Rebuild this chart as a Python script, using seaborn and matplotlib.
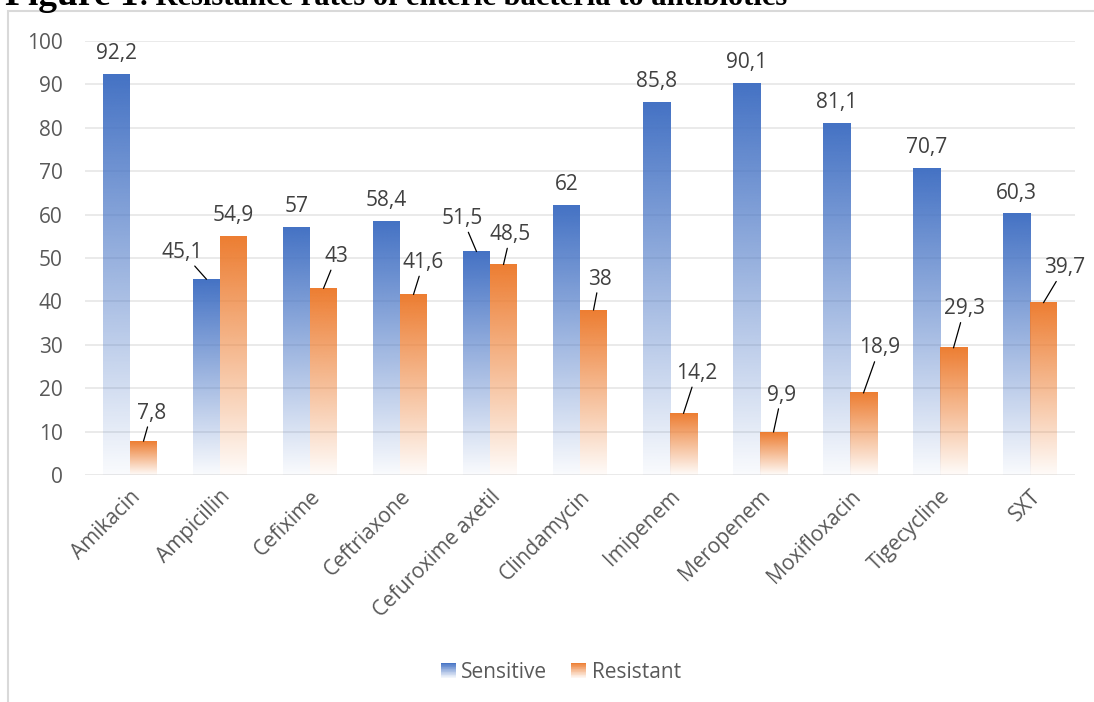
import numpy as np
import pandas as pd
import matplotlib
matplotlib.use('Agg')
import matplotlib.pyplot as plt
import seaborn as sns
from matplotlib.colors import to_rgb
from matplotlib.patches import Rectangle
from matplotlib.legend_handler import HandlerBase

# data
antibiotics = ['Amikacin', 'Ampicillin', 'Cefixime', 'Ceftriaxone', 'Cefuroxime axetil',
               'Clindamycin', 'Imipenem', 'Meropenem', 'Moxifloxacin', 'Tigecycline', 'SXT']
sensitive = [92.2, 45.1, 57, 58.4, 51.5, 62, 85.8, 90.1, 81.1, 70.7, 60.3]
resistant = [7.8, 54.9, 43, 41.6, 48.5, 38, 14.2, 9.9, 18.9, 29.3, 39.7]
groups = ['Sensitive', 'Resistant']
colors = ['#4472C4', '#ED7D31']

# where each value label sits, in pixels from the top of its bar
sens_offsets = [(0, 21), (-24, 27), (0, 21), (0, 21), (-14, 33), (0, 21),
                (0, 21), (0, 21), (0, 21), (0, 21), (0, 20)]
res_offsets = [(8, 28), (0, 21), (13, 32), (10, 32), (7, 30), (6, 31),
               (13, 40), (8, 37), (16, 45), (11, 39), (21, 35)]

df = pd.DataFrame({
    'antibiotic': antibiotics * 2,
    'group': [groups[0]] * len(antibiotics) + [groups[1]] * len(antibiotics),
    'value': sensitive + resistant,
})


class GradientHandler(HandlerBase):
    # legend square that fades to white, like the bars
    def create_artists(self, legend, orig_handle, xdescent, ydescent, width, height, fontsize, trans):
        rgb = np.array(to_rgb(orig_handle.get_facecolor()))
        n = 20
        out = []
        for k in range(n):
            a = 0.05 + 0.95 * (k + 0.5) / n
            col = rgb * a + (1 - a)
            out.append(Rectangle((-xdescent, -ydescent + k * height / n), width, height / n * 1.05,
                                 facecolor=col, edgecolor='none', transform=trans))
        return out


sns.set_style('white')
plt.rcParams['font.family'] = ['Open Sans', 'DejaVu Sans']

W, H = 1094, 702
fig = plt.figure(figsize=(W / 100, H / 100), dpi=100)
ax = fig.add_axes([85 / W, 1 - 475 / H, 990 / W, 434 / H])

sns.barplot(data=df, x='antibiotic', y='value', hue='group', palette=colors,
            width=0.6, saturation=1, errorbar=None, legend=False, ax=ax)

# gradient fill: full colour at the top fading out at the bottom
for cont, col in zip(ax.containers, colors):
    rgb = to_rgb(col)
    for bar in cont:
        x0, w, h = bar.get_x(), bar.get_width(), bar.get_height()
        img = np.ones((256, 1, 4))
        img[..., :3] = rgb
        img[:, 0, 3] = np.linspace(1, 0.03, 256)
        ax.imshow(img, extent=(x0, x0 + w, 0, h), aspect='auto', origin='upper',
                  interpolation='bilinear', zorder=2)
        bar.set_facecolor('none')
        bar.set_edgecolor('none')

# value labels, comma decimals, leader lines for the shifted ones
for cont, vals, offs in zip(ax.containers, [sensitive, resistant], [sens_offsets, res_offsets]):
    for bar, v, (dx, dy) in zip(cont, vals, offs):
        xc = bar.get_x() + bar.get_width() / 2
        txt = f'{v:g}'.replace('.', ',')
        arrow = None
        if dy > 24:
            arrow = dict(arrowstyle='-', color='black', lw=0.9, shrinkA=0, shrinkB=0)
        ax.annotate(txt, xy=(xc, v), xytext=(dx, dy), textcoords='offset pixels',
                    ha='center', va='center', fontsize=15, color='#404040', arrowprops=arrow,
                    zorder=4)

ax.set_xlim(-0.5, len(antibiotics) - 0.5)
ax.set_ylim(0, 100)
ax.set_yticks(range(0, 101, 10))
ax.set_xlabel('')
ax.set_ylabel('')
ax.yaxis.grid(True, color='#E6E6E6', lw=1.2)
ax.set_axisbelow(True)
sns.despine(ax=ax, left=True, bottom=True)
ax.tick_params(axis='y', length=0, pad=16, labelsize=15, labelcolor='#595959')
ax.tick_params(axis='x', length=0, pad=8, labelsize=15, labelcolor='#595959')
plt.setp(ax.get_xticklabels(), rotation=45, ha='right', rotation_mode='anchor')

handles = [Rectangle((0, 0), 1, 1, facecolor=c) for c in colors]
fig.legend(handles, groups, handler_map={Rectangle: GradientHandler()},
           loc='center', bbox_to_anchor=(561 / W, 1 - 672 / H), ncol=2, frameon=False,
           fontsize=15, labelcolor='#595959', handlelength=0.72, handleheight=0.7,
           handletextpad=0.25, columnspacing=1.15)

# chart frame and the caption above it, cut by the top edge as in the source
fig.add_artist(Rectangle((8 / W, -0.05), 1.2, 1 - 11 / H + 0.05, transform=fig.transFigure,
                         fill=False, edgecolor='#D9D9D9', lw=1.5))
fig.text(5 / W, 1 - 5 / H, 'Figure 1', family='Liberation Serif', weight='bold',
         fontsize=27, va='baseline', color='black')
fig.text(140 / W, 1 - 5 / H, '. Resistance rates of enteric bacteria to antibiotics',
         family='Liberation Serif', weight='bold', fontsize=22, va='baseline', color='black')

fig.savefig('out.png', dpi=100)
